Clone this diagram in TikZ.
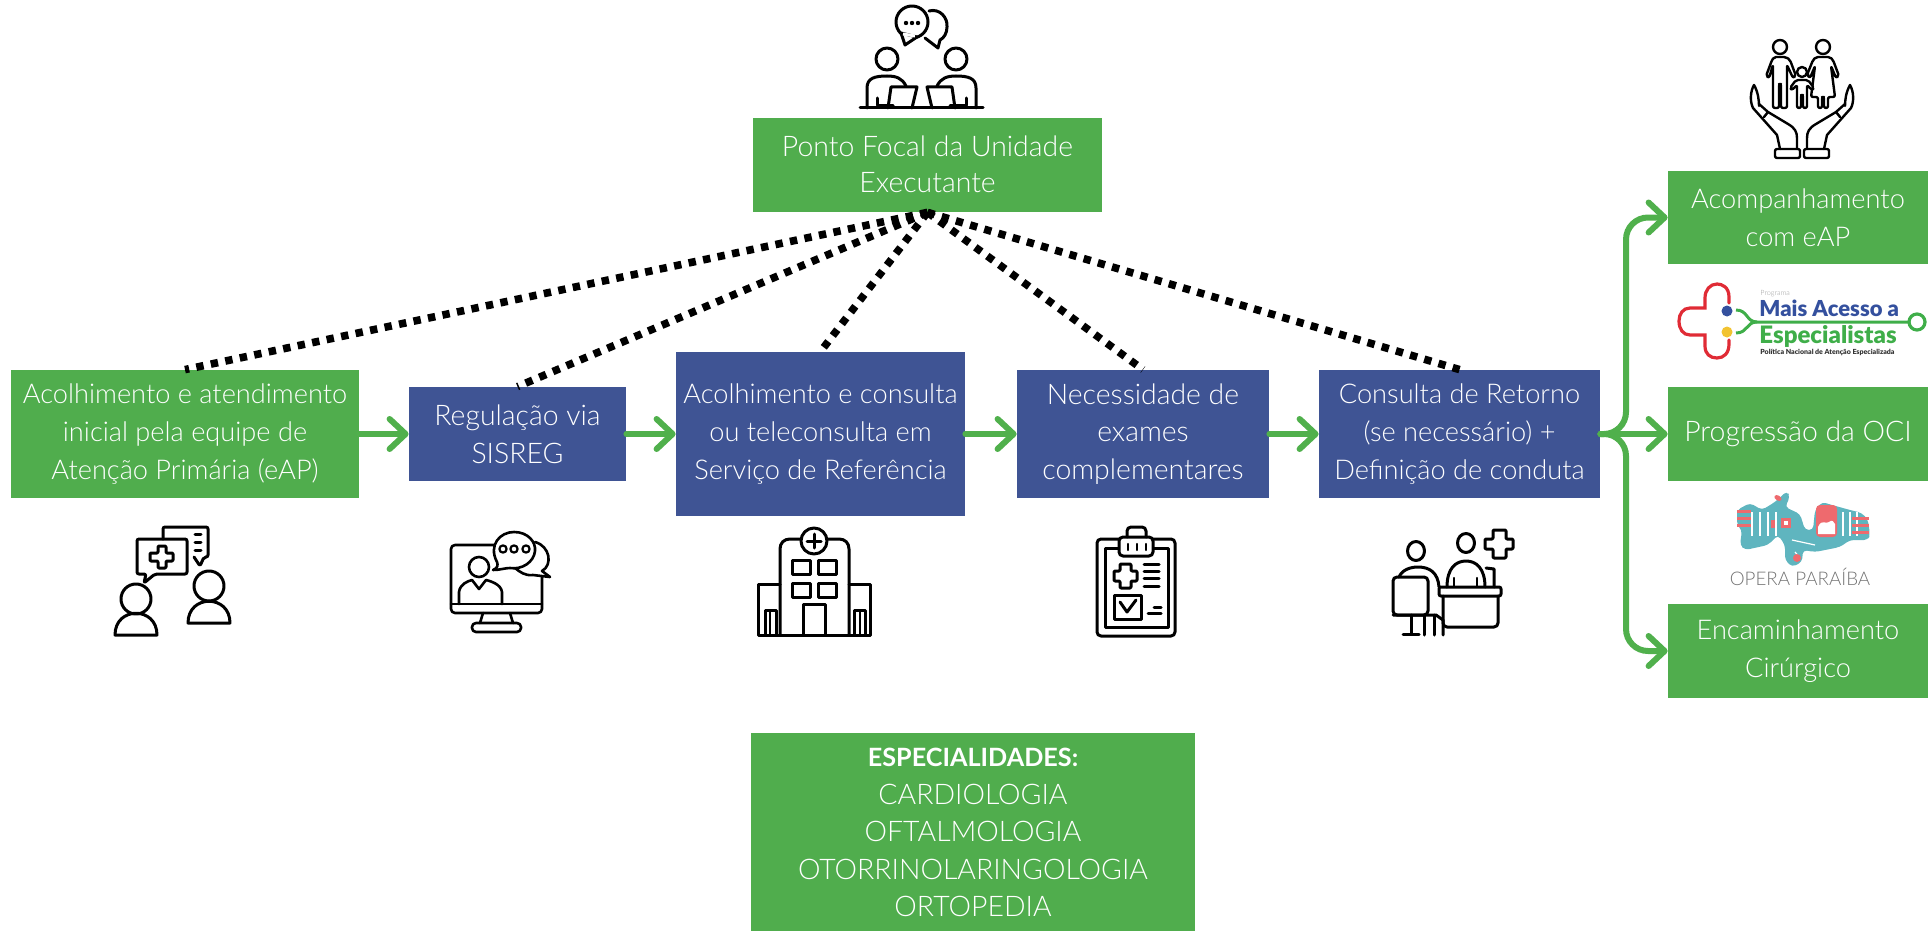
\documentclass[tikz,border=0pt]{standalone}
\usepackage{fontspec}
\setmainfont{Lato}[UprightFont=* Light,BoldFont=*-Bold]
\newfontfamily\logofont{Lato}[UprightFont=*-Black,BoldFont=*-Black]
\usetikzlibrary{arrows.meta}

\definecolor{boxgreen}{HTML}{50AD4D}
\definecolor{boxblue}{HTML}{3F5494}
\definecolor{arrowgreen}{HTML}{50B04C}
\definecolor{logored}{HTML}{E02B35}
\definecolor{logoblue}{HTML}{34509E}
\definecolor{logoyellow}{HTML}{F2C331}
\definecolor{logogreen}{HTML}{3FAE49}
\definecolor{operateal}{HTML}{5FB5BF}
\definecolor{operared}{HTML}{EE6A6E}

\tikzset{
  greenbox/.style={rectangle,fill=boxgreen,text=white,align=center,inner sep=0pt,
    font=\fontsize{14.2}{18.8}\selectfont},
  bluebox/.style={greenbox,fill=boxblue},
  narrowtext/.style={font=\fontsize{13.6}{18.8}\selectfont},
  flow/.style={draw=arrowgreen,line width=3pt,line cap=round,
    -{Straight Barb[length=8pt,width=15pt,round]}},
  dots/.style={draw=black,line width=3.8pt,dash pattern=on 3.7pt off 3.7pt},
  icon/.style={draw=black,line width=1.5pt,line join=round,line cap=round},
}

\begin{document}
\begin{tikzpicture}[x=0.5pt,y=-0.5pt]
\useasboundingbox (0,0) rectangle (1928,931);

% boxes
\node[greenbox,minimum width=174.5pt,minimum height=47pt] (focal) at (927.5,165) {\raisebox{1pt}{Ponto Focal da Unidade}\\[-1pt]\raisebox{1pt}{Executante}};
\node[greenbox,narrowtext,minimum width=174pt,minimum height=64pt] (eap) at (185,434) {Acolhimento e atendimento\\inicial pela equipe de\\Atenção Primária (eAP)};
\node[bluebox,minimum width=108.5pt,minimum height=47pt] (sisreg) at (517.5,434) {Regulação via\\SISREG};
\node[bluebox,narrowtext,minimum width=144.5pt,minimum height=82pt] (consulta) at (820.5,434) {Acolhimento e consulta\\ou teleconsulta em\\Serviço de Referência};
\node[bluebox,minimum width=126pt,minimum height=64pt] (exames) at (1143,434) {Necessidade de\\exames\\complementares};
\node[bluebox,narrowtext,minimum width=140.5pt,minimum height=64pt] (retorno) at (1459.5,434) {Consulta de Retorno\\(se necessário) +\\Definição de conduta};
\node[greenbox,narrowtext,minimum width=130pt,minimum height=46.5pt] (acomp) at (1798,217.5) {Acompanhamento\\com eAP};
\node[greenbox,minimum width=130pt,minimum height=47pt] (oci) at (1798,434) {Progressão da OCI};
\node[greenbox,narrowtext,minimum width=130pt,minimum height=47pt] (encam) at (1798,651) {Encaminhamento\\Cirúrgico};
\node[greenbox,minimum width=222pt,minimum height=99.5pt] (espec) at (973,832.5) {{\fontsize{12.6}{18.8}\selectfont\textbf{ESPECIALIDADES:}}\\CARDIOLOGIA\\OFTALMOLOGIA\\OTORRINOLARINGOLOGIA\\ORTOPEDIA};

% dotted links
\foreach \target in {eap,sisreg,consulta,exames,retorno}
  \draw[dots] (focal.south) -- (\target.north);

% main flow
\draw[flow] (eap) -- (sisreg);
\draw[flow] (sisreg) -- (consulta);
\draw[flow] (consulta) -- (exames);
\draw[flow] (exames) -- (retorno);

% outcome branches
\coordinate (split) at (1626,434);
\draw[flow] (retorno) -- (oci);
\draw[flow,rounded corners=11pt] (retorno.east) -- (split) |- (acomp.west);
\draw[flow,rounded corners=11pt] (retorno.east) -- (split) |- (encam.west);

% icon: people at table
\draw[icon] (860,108) -- (983,108);
\draw[icon] (887,59) circle[radius=11] (956,59) circle[radius=11];
\draw[icon] (867,108) -- (867,88) .. controls (867,78) and (875,76) .. (887,76) .. controls (896,76) and (902,78) .. (906,86);
\draw[icon] (976,108) -- (976,88) .. controls (976,78) and (968,76) .. (956,76) .. controls (947,76) and (941,78) .. (937,86);
\draw[icon] (888,108) -- (891,87) -- (917,87) -- (912,108);
\draw[icon] (955,108) -- (952,87) -- (927,87) -- (932,108);
\draw[icon] (877,98) -- (877,106) -- (893,106);
\draw[icon] (966,98) -- (966,106) -- (950,106);
\draw[icon] (929,11) .. controls (940,8) and (948,18) .. (947,27) .. controls (947,33) and (944,38) .. (940,40) -- (938,48) -- (925,38);
\draw[icon,fill=white] (912,22) circle[radius=16];
\draw[icon,fill=white] (901,33) -- (905,45) -- (917,37) -- cycle;
\draw[white,line width=1.5pt] (903,34) -- (915,36);
\foreach \x in {906,912,918}
  \fill (\x,23) circle[radius=2.2];

% icon: two people with messages
\draw[icon] (136,599) circle[radius=15];
\draw[icon] (115,635) .. controls (115,606) and (157,606) .. (157,635) -- cycle;
\draw[icon] (209,586) circle[radius=15];
\draw[icon] (188,623) .. controls (188,594) and (230,594) .. (230,623) -- cycle;
\draw[icon,rounded corners=1pt] (163,539) -- (163,527) -- (208,527) -- (208,557) -- (204,557) -- (200,566) -- (194,557);
\draw[icon,rounded corners=1pt] (137,539) -- (187,539) -- (187,574) -- (155,574) -- (144,583) -- (146,574) -- (137,574) -- cycle;
\draw[icon,rounded corners=0.5pt] (158,546) -- (166,546) -- (166,553) -- (173,553) -- (173,561) -- (166,561) -- (166,568) -- (158,568) -- (158,561) -- (150,561) -- (150,553) -- (158,553) -- cycle;
\foreach \y in {534,542,550}
  \draw[icon] (195,\y) -- (201,\y);

% icon: monitor
\draw[icon,line width=1.3pt,rounded corners=2pt] (451,545) rectangle (542,613);
\draw[icon,line width=1.3pt] (451,604) -- (542,604);
\draw[icon,line width=1.3pt] (483,613) -- (480,623) (510,613) -- (513,623);
\draw[icon,line width=1.3pt,rounded corners=2pt] (472,632) rectangle (521,623);
\draw[icon,line width=1.3pt] (479,567) circle[radius=10];
\draw[icon,line width=1.3pt] (459,604) -- (459,592) .. controls (460,584) and (468,581) .. (472,580) -- (479,589) -- (486,580) .. controls (490,581) and (501,584) .. (502,592) -- (502,604);
\draw[icon,line width=1.3pt,fill=white] (535,542) .. controls (550,546) and (553,565) .. (542,571) -- (550,577) -- (533,575) .. controls (525,576) and (520,572) .. (515,568);
\draw[icon,line width=1.3pt,fill=white] (493,570) .. controls (498,568) and (498,565) .. (497,562) .. controls (488,545) and (500,532) .. (514,532) .. controls (528,532) and (536,542) .. (535,551) .. controls (534,562) and (522,570) .. (510,568) .. controls (505,568) and (500,570) .. (493,570) -- cycle;
\foreach \x in {503,514,526}
  \draw[icon,line width=1.1pt] (\x,549) circle[radius=3.6];

% icon: hospital
\draw[icon] (780,635) -- (780,549) .. controls (780,543) and (784,539) .. (790,539) -- (839,539) .. controls (845,539) and (849,543) .. (849,549) -- (849,635);
\draw[icon] (780,584) -- (758,584) -- (758,635) -- (870,635) -- (870,584) -- (849,584);
\draw[icon,fill=white] (814,541) circle[radius=13];
\draw[icon] (814,534) -- (814,548) (807,541) -- (821,541);
\foreach \x/\y in {792/560,818/560,792/583,818/583}
  \draw[icon] (\x,\y) rectangle ++(18,14);
\draw[icon] (803,635) -- (803,604) -- (825,604) -- (825,635);
\draw[icon] (765,635) -- (765,610) -- (776,610) -- (776,635);
\draw[icon] (854,635) -- (854,610) -- (865,610) -- (865,635);
\draw[icon,line width=1pt] (770,612) -- (770,635) (860,612) -- (860,635);

% icon: clipboard
\draw[icon,rounded corners=2pt] (1097,539) rectangle (1175,636);
\draw[icon] (1105,548) rectangle (1168,627);
\draw[icon,fill=white,rounded corners=2pt] (1119,537) rectangle (1153,556);
\draw[icon,rounded corners=2pt] (1127,537) -- (1127,527) -- (1146,527) -- (1146,537);
\foreach \x in {1128,1137,1146}
  \draw[icon,line width=1.2pt] (\x,544) -- (\x,550);
\draw[icon,rounded corners=0.5pt] (1120,564) -- (1131,564) -- (1131,571) -- (1137,571) -- (1137,581) -- (1131,581) -- (1131,588) -- (1120,588) -- (1120,581) -- (1114,581) -- (1114,571) -- (1120,571) -- cycle;
\foreach \y in {564,571,578,586}
  \draw[icon] (1144,\y) -- (1159,\y);
\draw[icon] (1114,595) rectangle (1141,619);
\draw[icon] (1120,602) -- (1127,612) -- (1136,600);
\draw[icon] (1154,607) -- (1161,607) (1148,613) -- (1161,613);

% icon: reception desk
\draw[icon] (1416,551) ellipse[x radius=8.5,y radius=9.5];
\draw[icon] (1466,543) ellipse[x radius=8.5,y radius=9.5];
\draw[icon,rounded corners=0.5pt] (1493,530) -- (1506,530) -- (1506,539) -- (1513,539) -- (1513,549) -- (1506,549) -- (1506,558) -- (1493,558) -- (1493,549) -- (1485,549) -- (1485,539) -- (1493,539) -- cycle;
\draw[icon] (1399,577) .. controls (1402,570) and (1410,567) .. (1418,567) .. controls (1430,567) and (1438,573) .. (1439,587);
\draw[icon,rounded corners=2pt] (1393,577) rectangle (1428,615);
\draw[icon] (1393,615) -- (1436,615) -- (1443,620) -- (1443,635);
\draw[icon] (1411,615) -- (1411,634) (1403,634) -- (1419,634) (1424,615) -- (1424,635) (1434,615) -- (1434,635);
\draw[icon,rounded corners=1pt] (1439,587) rectangle (1501,596);
\draw[icon,rounded corners=2pt] (1443,596) -- (1443,627) -- (1498,627) -- (1498,596);
\draw[icon] (1447,587) .. controls (1447,568) and (1456,561) .. (1466,561) .. controls (1476,561) and (1485,568) .. (1485,587);
\draw[icon] (1486,568) -- (1494,569) -- (1494,587);
\draw[icon,line width=1.1pt] (1454,587) -- (1454,578) (1477,587) -- (1477,578);

% icon: family in hands
\begin{scope}[shift={(1802,0)}]
\draw[icon,line width=1.2pt] (-22,47) circle[radius=7] (21,47) circle[radius=7] (0,72) circle[radius=5];
\draw[icon,line width=1.2pt,rounded corners=1pt] (-36,76) -- (-30,60) -- (-28,57) -- (-16,57) -- (-12,60) -- (-6,76) -- (-9,78) -- (-15,65) -- (-15,108) -- (-21,108) -- (-21,84) -- (-23,84) -- (-23,108) -- (-29,108) -- (-29,65) -- (-33,78) -- cycle;
\draw[icon,line width=1.2pt,rounded corners=1pt] (5,75) -- (11,60) -- (14,57) -- (28,57) -- (31,60) -- (37,76) -- (34,78) -- (29,66) -- (33,97) -- (26,97) -- (26,108) -- (22,108) -- (22,97) -- (20,97) -- (20,108) -- (16,108) -- (16,97) -- (9,97) -- (13,66) -- (8,78) -- cycle;
\draw[icon,line width=1.2pt,fill=white,rounded corners=1pt] (-12,88) -- (-6,80) -- (6,80) -- (12,88) -- (10,90) -- (5,85) -- (5,108) -- (1,108) -- (1,95) -- (-1,95) -- (-1,108) -- (-5,108) -- (-5,85) -- (-10,90) -- cycle;
\foreach \s in {1,-1} {
  \begin{scope}[xscale=\s]
  \draw[icon,line width=1.2pt] (-48,85) .. controls (-52,92) and (-52,102) .. (-49,108) -- (-25,135) -- (-22,149);
  \draw[icon,line width=1.2pt] (-48,85) .. controls (-44,92) and (-43,100) .. (-43,106);
  \draw[icon,line width=1.2pt] (-43,104) -- (-34,112) -- (-38,117) (-34,112) -- (-14,124) .. controls (-7,128) and (-5,132) .. (-5,138) -- (-5,149);
  \draw[icon,line width=1.2pt,rounded corners=1pt] (-27,149) rectangle (-2,158);
  \end{scope}
}
\end{scope}

% logo: program
\draw[logored,line width=1.6pt,line cap=round] (1729,303) -- (1729,297) .. controls (1729,287) and (1722,284) .. (1717,284) .. controls (1710,284) and (1705,290) .. (1705,298) -- (1705,308) -- (1690,308) .. controls (1683,308) and (1679,314) .. (1679,321) .. controls (1679,329) and (1683,335) .. (1690,335) -- (1705,335) -- (1705,346) .. controls (1705,354) and (1710,358) .. (1717,358) .. controls (1724,358) and (1729,353) .. (1729,344) -- (1729,340);
\fill[logoblue] (1727,311) circle[radius=5.5];
\fill[logoyellow] (1727,332) circle[radius=5.5];
\draw[logogreen,line width=1.5pt] (1736,310) .. controls (1748,310) and (1746,322) .. (1757,322) -- (1908,322);
\draw[logogreen,line width=1.5pt] (1736,333) .. controls (1748,333) and (1746,322) .. (1757,322);
\draw[logogreen,line width=1.6pt] (1917,322) circle[radius=8];
\node[text=black!40,font=\fontsize{3.6}{4}\selectfont,anchor=west,inner sep=0pt] (progtag) at (1760,294) {Programa};
\node[text=logoblue,font=\fontsize{11}{12}\logofont,anchor=west,inner sep=0pt] (maistext) at (1759,308) {Mais Acesso a};
\node[text=logogreen,font=\fontsize{12}{13}\logofont,anchor=west,inner sep=0pt] (esptext) at (1759,336) {Especialistas};
\node[text=black!80,font=\fontsize{3.5}{4}\logofont,anchor=west,inner sep=0pt] (polstext) at (1760,352) {Política Nacional de Atenção Especializada};

% logo: opera
\fill[operateal,rounded corners=2pt] (1737,510) -- (1750,503) -- (1762,510) -- (1775,502) -- (1787,491) -- (1790,497) -- (1785,507) -- (1800,514) -- (1805,530) -- (1813,530) -- (1815,510) -- (1822,502) -- (1832,505) -- (1850,510) -- (1862,513) -- (1868,520) -- (1870,535) -- (1868,540) -- (1850,540) -- (1840,547) -- (1815,552) -- (1803,550) -- (1802,562) -- (1792,567) -- (1785,560) -- (1785,545) -- (1778,535) -- (1768,545) -- (1745,550) -- (1740,545) -- (1742,530) -- (1737,525) -- cycle;
\foreach \x in {1752,1760,1768,1776,1843,1850,1857}
  \draw[white,line width=0.6pt] (\x,512) -- (\x,536);
\draw[white,line width=0.6pt] (1792,540) -- (1815,545) (1795,552) -- (1800,558);
\fill[operared,rounded corners=2pt] (1816,505) rectangle (1837,537);
\fill[white] (1818,527) .. controls (1822,518) and (1826,525) .. (1829,522) .. controls (1832,519) and (1834,522) .. (1835,524) -- (1835,534) -- (1818,534) -- cycle;
\fill[operared] (1797,558) circle[radius=4];
\fill[operared,rotate around={-30:(1778,498)}] (1778,498) ellipse[x radius=4,y radius=2.5];
\fill[operared] (1781,518) rectangle (1791,528);
\fill[white] (1784,521) rectangle (1788,525);
\foreach \y in {510,517,524}
  \fill[operared] (1737,\y) rectangle ++(14,2.5);
\foreach \y in {517,524,531}
  \fill[operared] (1852,\y) rectangle ++(17,2.5);
\fill[operared] (1771,520) rectangle ++(4,8);
\node[text=black!55,font=\fontsize{9.4}{11}\selectfont,inner sep=0pt] (opera) at (1800,577) {OPERA PARAÍBA};

\end{tikzpicture}
\end{document}
